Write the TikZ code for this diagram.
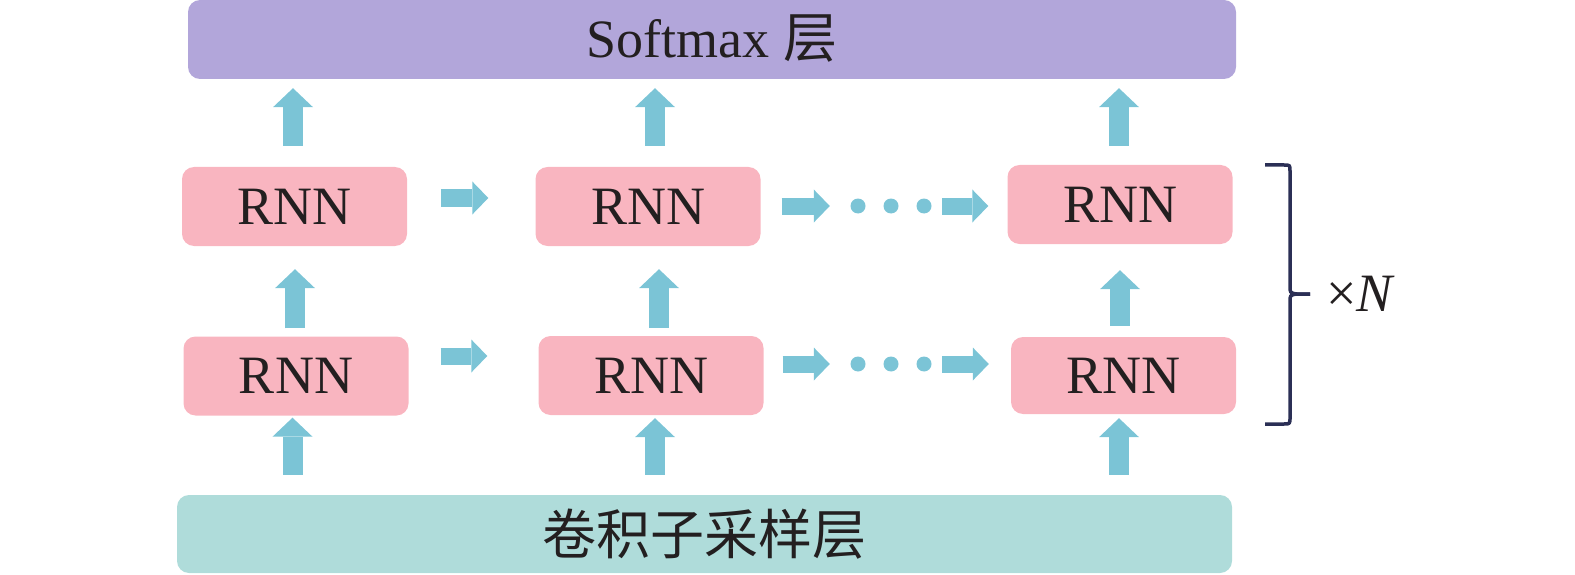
\documentclass[tikz,border=0pt]{standalone}
\usepackage{fontspec}
\setmainfont{Liberation Serif}
\newfontfamily\cjk{Noto Sans CJK SC}
\usetikzlibrary{arrows.meta}
\definecolor{softc}{HTML}{B2A6DA}
\definecolor{rnnc}{HTML}{F9B5C0}
\definecolor{barc}{HTML}{AFDCDA}
\definecolor{arrc}{HTML}{7BC4D6}
\definecolor{bracec}{HTML}{2B2F55}
\definecolor{txtc}{HTML}{231F20}
\tikzset{
  box/.style={rounded corners=12pt, inner sep=0pt, text=txtc, font=\fontsize{54}{60}\selectfont},
  rnnbox/.style={box, fill=rnnc, minimum width=225pt, minimum height=79pt},
  uparr/.style={draw=arrc, line width=20pt, -{Triangle[width=40pt,length=19pt,line width=0pt]}},
  rarr/.style={draw=arrc, line width=17pt, -{Triangle[width=33pt,length=16pt,line width=0pt]}},
  dotc/.style={circle, fill=arrc, minimum size=15pt, inner sep=0pt},
  bracestyle/.style={draw=bracec, line width=3.5pt, line join=round}
}
\begin{document}
\begin{tikzpicture}[x=1pt,y=-1pt]
\useasboundingbox (0,0) rectangle (1575,575);
% layers
\node[box, fill=softc, minimum width=1048pt, minimum height=79pt, text height=36pt, text depth=0pt] (soft) at (712,39.5) {Softmax {\cjk 层}};
\node[box, fill=barc, minimum width=1055pt, minimum height=78pt] (bar) at (704.5,534) {\cjk 卷积子采样层};
% RNN boxes
\node[rnnbox] (r11) at (294.5,206.5) {RNN};
\node[rnnbox] (r12) at (648,206.5) {RNN};
\node[rnnbox] (r13) at (1120,204.5) {RNN};
\node[rnnbox] (r21) at (296,376) {RNN};
\node[rnnbox] (r22) at (651,375.5) {RNN};
\node[rnnbox, minimum height=77pt] (r23) at (1123.5,375.5) {RNN};
% dots
\node[dotc] (dA1) at (858,206) {};
\node[dotc] (dA2) at (891,206) {};
\node[dotc] (dA3) at (924,206) {};
\node[dotc] (dB1) at (858,364) {};
\node[dotc] (dB2) at (891,364) {};
\node[dotc] (dB3) at (924,364) {};
% up arrows to softmax
\draw[uparr, shorten <=21pt, shorten >=9pt] ([xshift=-1.5pt]r11.north) -- ([xshift=-1.5pt]r11.north |- soft.south);
\draw[uparr, shorten <=21pt, shorten >=9pt] ([xshift=7pt]r12.north) -- ([xshift=7pt]r12.north |- soft.south);
\draw[uparr, shorten <=19pt, shorten >=9pt] ([xshift=-1pt]r13.north) -- ([xshift=-1pt]r13.north |- soft.south);
% up arrows between RNN rows
\draw[uparr, shorten <=8pt, shorten >=23pt] ([xshift=-1pt]r21.north) -- ([xshift=-1pt]r21.north |- r11.south);
\draw[uparr, shorten <=8pt, shorten >=23pt] ([xshift=8pt]r22.north) -- ([xshift=8pt]r22.north |- r12.south);
\draw[uparr, shorten <=11pt, shorten >=26pt] ([xshift=-3.5pt]r23.north) -- ([xshift=-3.5pt]r23.north |- r13.south);
% up arrows from bar
\draw[uparr, shorten <=20pt, shorten >=2pt] ([xshift=-3.5pt]r21.south |- bar.north) -- ([xshift=-3.5pt]r21.south);
\draw[uparr, shorten <=20pt, shorten >=3pt] ([xshift=4pt]r22.south |- bar.north) -- ([xshift=4pt]r22.south);
\draw[uparr, shorten <=20pt, shorten >=4pt] ([xshift=-4.5pt]r23.south |- bar.north) -- ([xshift=-4.5pt]r23.south);
% horizontal arrows, top row
\draw[rarr, shorten <=34pt, shorten >=47pt] ([yshift=8.5pt]r11.east) -- ([yshift=8.5pt]r12.west);
\draw[rarr, shorten <=21pt, shorten >=20.5pt] (r12.east |- dA1.west) -- (dA1.west);
\draw[rarr, shorten <=10.5pt, shorten >=19pt] (dA3.east) -- (dA3.east -| r13.west);
% horizontal arrows, bottom row
\draw[rarr, shorten <=32pt, shorten >=51pt] ([yshift=20pt]r21.east) -- ([yshift=20pt]r21.east -| r22.west);
\draw[rarr, shorten <=19pt, shorten >=20.5pt] (r22.east |- dB1.west) -- (dB1.west);
\draw[rarr, shorten <=10.5pt, shorten >=22pt] (dB3.east) -- (dB3.east -| r23.west);
% brace
\coordinate (btip) at (1310,294);
\draw[bracestyle] (1265,165) -- (1284,165) .. controls (1290,165) .. (1290,171) -- (1290,286)
  .. controls (1290,293) .. (1297,294) -- (btip);
\draw[bracestyle] (btip) -- (1297,294) .. controls (1290,295) .. (1290,302) -- (1290,417)
  .. controls (1290,424) .. (1284,424) -- (1265,424);
\node[anchor=west, inner sep=0pt, text=txtc, font=\fontsize{54}{60}\selectfont] (times) at (1326,294) {×\textit{N}};
\end{tikzpicture}
\end{document}
